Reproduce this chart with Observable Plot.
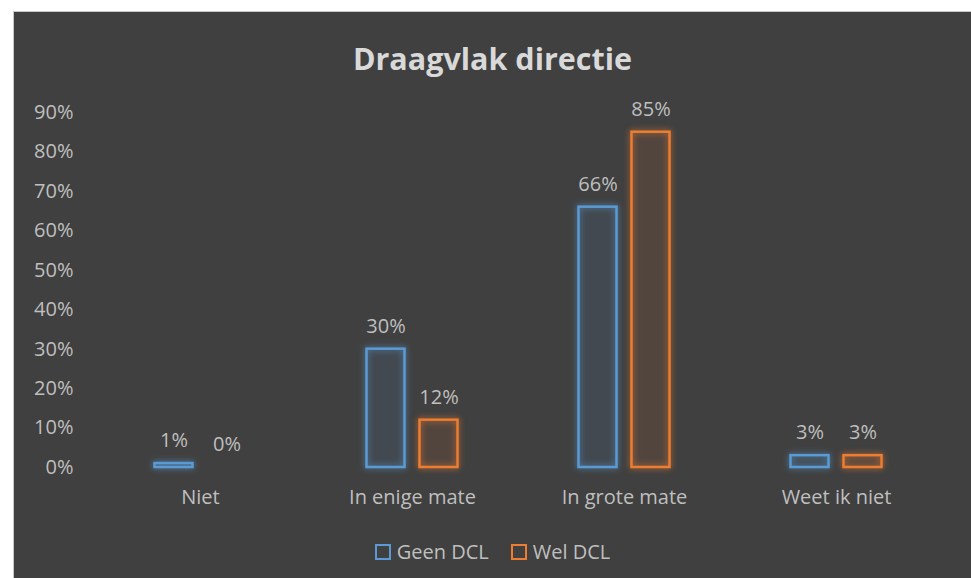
<!DOCTYPE html>
<html>
<head>
<meta charset="utf-8">
<script src="https://cdn.jsdelivr.net/npm/d3@7"></script>
<script src="https://cdn.jsdelivr.net/npm/@observablehq/plot@0.6"></script>
<style>
  html, body { margin: 0; padding: 0; background: #ffffff; overflow: hidden; width: 971px; height: 578px; }
  #panel { position: absolute; left: 13px; top: 11px; width: 958px; height: 580px; background: #404040;
           border-left: 1px solid #c8c8c8; border-top: 1px solid #c8c8c8; box-sizing: border-box;
           font-family: "Open Sans", sans-serif; }
  #title { height: 64px; padding-top: 14px; display: flex; align-items: center; justify-content: center;
           color: #d9d9d9; font-size: 30.5px; font-weight: 700; }
  #chart svg { display: block; }
  #legend { margin-top: 11px; height: 40px; display: flex; align-items: center; justify-content: center;
            color: #bfbfbf; font-size: 20px; gap: 22px; }
  .sw { display: inline-block; width: 12px; height: 12px; border: 2px solid; margin-right: 6px; vertical-align: -1px; }
  rect.glow-blue { filter: drop-shadow(0 0 3px rgba(91,155,213,0.85)); }
  rect.glow-orange { filter: drop-shadow(0 0 3px rgba(237,125,49,0.85)); }
</style>
</head>
<body>
<div id="panel">
  <div id="title">Draagvlak directie</div>
  <div id="chart"></div>
  <div id="legend"></div>
</div>
<script>
const categories = ["Niet", "In enige mate", "In grote mate", "Weet ik niet"];
const seriesNames = ["Geen DCL", "Wel DCL"];
const geenDCL = [0.01, 0.30, 0.66, 0.03];
const welDCL = [0.00, 0.12, 0.85, 0.03];
const seriesColors = ["#5b9bd5", "#ed7d31"];
const yTicks = [0, 0.1, 0.2, 0.3, 0.4, 0.5, 0.6, 0.7, 0.8, 0.9];

const data = [];
categories.forEach((c, i) => {
  data.push({cat: c, series: seriesNames[0], value: geenDCL[i]});
  data.push({cat: c, series: seriesNames[1], value: welDCL[i]});
});
const pct = d => Math.round(d * 100) + "%";

const plot = Plot.plot({
  width: 957,
  height: 430,
  marginTop: 22,
  marginBottom: 53,
  marginLeft: 78,
  marginRight: 28,
  style: {background: "transparent", color: "#bfbfbf", fontSize: "20px", fontFamily: "Open Sans, sans-serif"},
  fx: {domain: categories, padding: 0, label: null, tickSize: 0, tickPadding: 22, axis: "bottom"},
  x: {domain: seriesNames, axis: null, paddingInner: 0.26, paddingOuter: 1.1},
  y: {domain: [0, 0.9], ticks: yTicks, tickFormat: pct, tickSize: 0, tickPadding: 21, label: null, grid: false},
  color: {domain: seriesNames, range: seriesColors},
  marks: [
    Plot.barY(data, {fx: "cat", x: "series", y: "value", stroke: "series", fill: "series",
                     fillOpacity: 0.06, strokeWidth: 2.5, insetLeft: 0.5, insetRight: 0.5}),
    Plot.text(data, {fx: "cat", x: "series", y: "value", text: d => pct(d.value), dy: -23,
                     fill: "#bfbfbf", fontSize: 20})
  ]
});
document.getElementById("chart").appendChild(plot);
d3.select(plot).selectAll("rect").each(function() {
  const s = (this.getAttribute("stroke") || "").toLowerCase();
  if (s === seriesColors[0]) this.classList.add("glow-blue");
  if (s === seriesColors[1]) this.classList.add("glow-orange");
});

const legend = d3.select("#legend");
seriesNames.forEach((n, i) => {
  const item = legend.append("span");
  item.append("span").attr("class", "sw").style("border-color", seriesColors[i]);
  item.append("span").text(n);
});
</script>
</body>
</html>
